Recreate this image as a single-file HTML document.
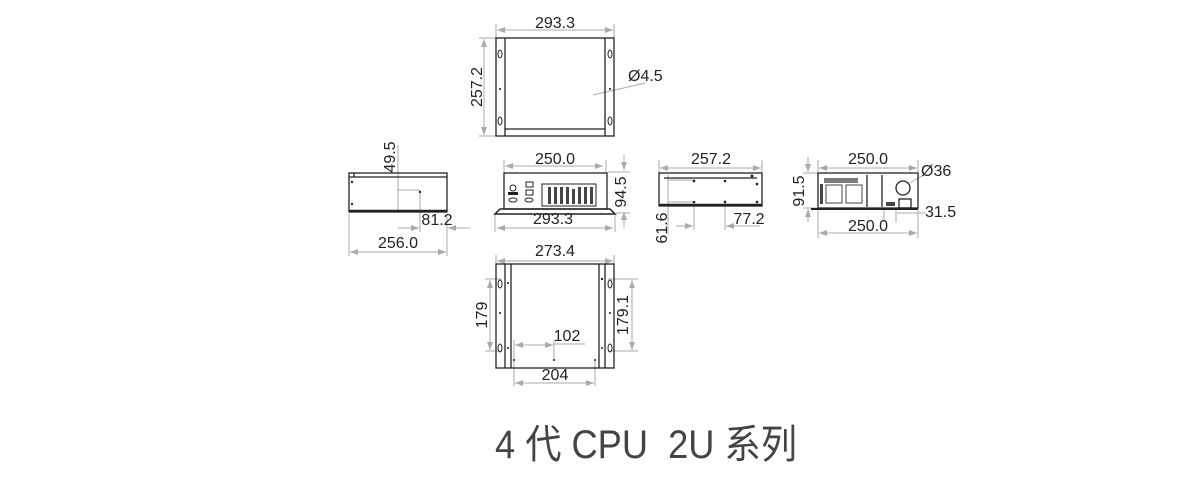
<!DOCTYPE html>
<html><head><meta charset="utf-8"><style>
html,body{margin:0;padding:0;background:#fff;width:1200px;height:481px;overflow:hidden}
svg text{font-family:"Liberation Sans",sans-serif;fill:#222}
</style></head><body>
<svg width="1200" height="481" viewBox="0 0 1200 481" xmlns="http://www.w3.org/2000/svg">
<defs>
<marker id="a" markerWidth="8" markerHeight="6" refX="8" refY="3" orient="auto-start-reverse" markerUnits="userSpaceOnUse"><path d="M0,0 L8,3 L0,6z" fill="#aaa"/></marker>
</defs>
<g stroke="#aaa" stroke-width="1" fill="none">
<line x1="497" y1="30" x2="613" y2="30" marker-start="url(#a)" marker-end="url(#a)"/>
<line x1="496" y1="24" x2="496" y2="38"/><line x1="614" y1="24" x2="614" y2="38"/>
<line x1="484" y1="39" x2="484" y2="135" marker-start="url(#a)" marker-end="url(#a)"/>
<line x1="479" y1="38" x2="496" y2="38"/><line x1="479" y1="136" x2="496" y2="136"/>
<line x1="593" y1="95" x2="645" y2="83"/>
<line x1="398" y1="145" x2="398" y2="212" /><line x1="398" y1="190" x2="420" y2="190"/>
<line x1="420" y1="192" x2="420" y2="232"/>
<line x1="398" y1="228" x2="419" y2="228" marker-end="url(#a)"/>
<line x1="447" y1="214" x2="447" y2="256"/><line x1="349" y1="214" x2="349" y2="256"/>
<line x1="448" y1="228" x2="470" y2="228" marker-start="url(#a)"/>
<line x1="350" y1="252" x2="446" y2="252" marker-start="url(#a)" marker-end="url(#a)"/>
<line x1="505" y1="166" x2="603" y2="166" marker-start="url(#a)" marker-end="url(#a)"/>
<line x1="504" y1="160" x2="504" y2="173"/><line x1="606" y1="160" x2="606" y2="173"/>
<line x1="624" y1="155" x2="624" y2="170" marker-end="url(#a)"/>
<line x1="624" y1="212" x2="624" y2="228" marker-start="url(#a)"/>
<line x1="608" y1="172" x2="630" y2="172"/><line x1="616" y1="213" x2="630" y2="213"/>
<line x1="497" y1="228" x2="613" y2="228" marker-start="url(#a)" marker-end="url(#a)"/>
<line x1="495" y1="214" x2="495" y2="232"/><line x1="615" y1="214" x2="615" y2="232"/>
<line x1="497" y1="261" x2="613" y2="261" marker-start="url(#a)" marker-end="url(#a)"/>
<line x1="496" y1="255" x2="496" y2="266"/><line x1="614" y1="255" x2="614" y2="266"/>
<line x1="490" y1="280" x2="490" y2="350" marker-start="url(#a)" marker-end="url(#a)"/>
<line x1="485" y1="279" x2="502" y2="279"/><line x1="485" y1="351" x2="502" y2="351"/>
<line x1="632" y1="280" x2="632" y2="350" marker-start="url(#a)" marker-end="url(#a)"/>
<line x1="608" y1="279" x2="638" y2="279"/><line x1="608" y1="351" x2="638" y2="351"/>
<line x1="515" y1="345" x2="553" y2="345" marker-start="url(#a)" marker-end="url(#a)"/>
<line x1="554" y1="340" x2="554" y2="360"/><line x1="554" y1="344" x2="585" y2="344"/>
<line x1="514" y1="340" x2="514" y2="386"/><line x1="595" y1="360" x2="595" y2="386"/>
<line x1="515" y1="383" x2="594" y2="383" marker-start="url(#a)" marker-end="url(#a)"/>
<line x1="660" y1="168" x2="761" y2="168" marker-start="url(#a)" marker-end="url(#a)"/>
<line x1="659" y1="160" x2="659" y2="173"/><line x1="762" y1="160" x2="762" y2="173"/>
<line x1="668" y1="175" x2="668" y2="235"/>
<line x1="668" y1="180" x2="695" y2="180"/><line x1="668" y1="202" x2="695" y2="202"/>
<line x1="694" y1="202" x2="694" y2="230"/><line x1="725" y1="200" x2="725" y2="230"/>
<line x1="676" y1="226" x2="693" y2="226" marker-end="url(#a)"/>
<line x1="726" y1="226" x2="760" y2="226" marker-start="url(#a)"/>
<line x1="819" y1="168" x2="917" y2="168" marker-start="url(#a)" marker-end="url(#a)"/>
<line x1="818" y1="160" x2="818" y2="173"/><line x1="918" y1="160" x2="918" y2="173"/>
<line x1="808" y1="157" x2="808" y2="172" marker-end="url(#a)"/>
<line x1="808" y1="209" x2="808" y2="222" marker-start="url(#a)"/>
<line x1="803" y1="173" x2="818" y2="173"/><line x1="803" y1="208" x2="818" y2="208"/>
<line x1="818" y1="208" x2="818" y2="238"/><line x1="918" y1="210" x2="918" y2="238"/>
<line x1="884" y1="210" x2="884" y2="222"/><line x1="896" y1="210" x2="896" y2="222"/>
<line x1="819" y1="233" x2="917" y2="233" marker-start="url(#a)" marker-end="url(#a)"/>
<line x1="897" y1="213" x2="918" y2="213"/><line x1="918" y1="213" x2="925" y2="213"/>
<line x1="910" y1="183" x2="925" y2="174"/>
</g>
<g stroke="#222" stroke-width="1.3" fill="none">
<rect x="496" y="38" width="118" height="98"/>
<line x1="505" y1="38" x2="505" y2="136"/><line x1="605" y1="38" x2="605" y2="136"/>
<line x1="505" y1="129" x2="605" y2="129"/>
<rect x="349" y="173" width="98" height="39"/>
<line x1="349" y1="177" x2="447" y2="177"/><line x1="354" y1="173" x2="354" y2="177"/>
<line x1="349" y1="211" x2="447" y2="211" stroke-width="2.5"/>
<rect x="504" y="173" width="103" height="36"/>
<path d="M495,214 L500,209 L610,209 L615,214 Z" stroke-width="1.5"/>
<rect x="542" y="184" width="54" height="22" stroke-width="1"/>
<rect x="659" y="173" width="103" height="33"/>
<line x1="664" y1="178" x2="757" y2="178"/>
<line x1="659" y1="205" x2="762" y2="205" stroke-width="2.5"/>
<rect x="818" y="173" width="100" height="35"/>
<line x1="811" y1="209" x2="918" y2="209" stroke-width="2"/>
<circle cx="903" cy="188" r="7"/><rect x="899" y="199" width="12" height="9"/>
<line x1="867" y1="175" x2="867" y2="207"/><line x1="882" y1="175" x2="882" y2="207"/>
<rect x="496" y="264" width="118" height="104"/>
<line x1="505" y1="264" x2="505" y2="368"/><line x1="511" y1="264" x2="511" y2="368"/>
<line x1="599" y1="264" x2="599" y2="368"/><line x1="605" y1="264" x2="605" y2="368"/>
</g>
<g fill="#222">
<ellipse cx="500" cy="54" rx="2" ry="4" fill="none" stroke="#222"/><ellipse cx="610" cy="54" rx="2" ry="4" fill="none" stroke="#222"/>
<ellipse cx="500" cy="121" rx="2" ry="4" fill="none" stroke="#222"/><ellipse cx="610" cy="121" rx="2" ry="4" fill="none" stroke="#222"/>
<circle cx="500" cy="89" r="1"/><circle cx="610" cy="89" r="1"/>
<ellipse cx="500" cy="284" rx="2" ry="4" fill="none" stroke="#222"/><ellipse cx="610" cy="284" rx="2" ry="4" fill="none" stroke="#222"/>
<ellipse cx="500" cy="348" rx="2" ry="4" fill="none" stroke="#222"/><ellipse cx="610" cy="348" rx="2" ry="4" fill="none" stroke="#222"/>
<circle cx="500" cy="313" r="1"/><circle cx="610" cy="313" r="1"/>
<circle cx="508" cy="283" r="1"/><circle cx="508" cy="348" r="1"/><circle cx="602" cy="279" r="1.2"/><circle cx="602" cy="348" r="1"/>
<circle cx="514" cy="360" r="1"/><circle cx="554" cy="360" r="1"/><circle cx="595" cy="360" r="1"/>
<circle cx="352" cy="182" r="1.2"/><circle cx="352" cy="204" r="1.2"/><circle cx="420" cy="192" r="1.2"/>
<circle cx="694" cy="181" r="1.3"/><circle cx="725" cy="181" r="1.3"/><circle cx="757" cy="184" r="1.3"/>
<circle cx="694" cy="202" r="1.3"/><circle cx="725" cy="202" r="1.3"/><circle cx="757" cy="202" r="1.3"/><circle cx="752" cy="176" r="1.5"/>
<circle cx="513" cy="188" r="3" fill="none" stroke="#222"/><rect x="508" y="192" width="10" height="3"/>
<rect x="526" y="182" width="7" height="5" fill="none" stroke="#222"/><rect x="526" y="190" width="7" height="5" fill="none" stroke="#222"/>
<ellipse cx="513" cy="200" rx="4" ry="2" fill="none" stroke="#222"/><ellipse cx="529" cy="200" rx="4" ry="2" fill="none" stroke="#222"/>
</g>
<g fill="#444">
<rect x="548" y="187" width="3" height="17"/><rect x="554" y="187" width="3" height="17"/><rect x="560" y="187" width="3" height="17"/><rect x="566" y="187" width="3" height="17"/><rect x="572" y="189" width="3" height="15"/><rect x="578" y="187" width="3" height="17"/><rect x="584" y="187" width="3" height="17"/><rect x="590" y="187" width="3" height="17"/>
<rect x="824" y="178" width="34" height="5" opacity=".7"/>
<rect x="826" y="185" width="16" height="18" fill="none" stroke="#444"/><rect x="846" y="185" width="16" height="18" fill="none" stroke="#444"/>
<rect x="820" y="184" width="3" height="20"/><rect x="886" y="202" width="9" height="4"/>
</g>
<g font-size="16">
<text x="555" y="28" text-anchor="middle">293.3</text>
<text transform="translate(482,87) rotate(-90)" text-anchor="middle">257.2</text>
<text x="628" y="81">Ø4.5</text>
<text transform="translate(395,157) rotate(-90)" text-anchor="middle">49.5</text>
<text x="437" y="225" text-anchor="middle">81.2</text>
<text x="398" y="248" text-anchor="middle">256.0</text>
<text x="555" y="164" text-anchor="middle">250.0</text>
<text transform="translate(626,192) rotate(-90)" text-anchor="middle">94.5</text>
<text x="553" y="224" text-anchor="middle">293.3</text>
<text x="711" y="164" text-anchor="middle">257.2</text>
<text transform="translate(667,228) rotate(-90)" text-anchor="middle">61.6</text>
<text x="749" y="224" text-anchor="middle">77.2</text>
<text x="868" y="164" text-anchor="middle">250.0</text>
<text transform="translate(804,191) rotate(-90)" text-anchor="middle">91.5</text>
<text x="921" y="176">Ø36</text>
<text x="925" y="217">31.5</text>
<text x="868" y="231" text-anchor="middle">250.0</text>
<text x="555" y="256" text-anchor="middle">273.4</text>
<text transform="translate(487,315) rotate(-90)" text-anchor="middle">179</text>
<text transform="translate(628,315) rotate(-90)" text-anchor="middle">179.1</text>
<text x="567" y="341" text-anchor="middle">102</text>
<text x="555" y="380" text-anchor="middle">204</text>
</g>
<text x="495" y="458" font-size="40" textLength="302" lengthAdjust="spacingAndGlyphs" style="font-family:'Liberation Sans','Noto Sans CJK SC',sans-serif;fill:#444">4 代 CPU&#160; 2U 系列</text>
</svg>
</body></html>
